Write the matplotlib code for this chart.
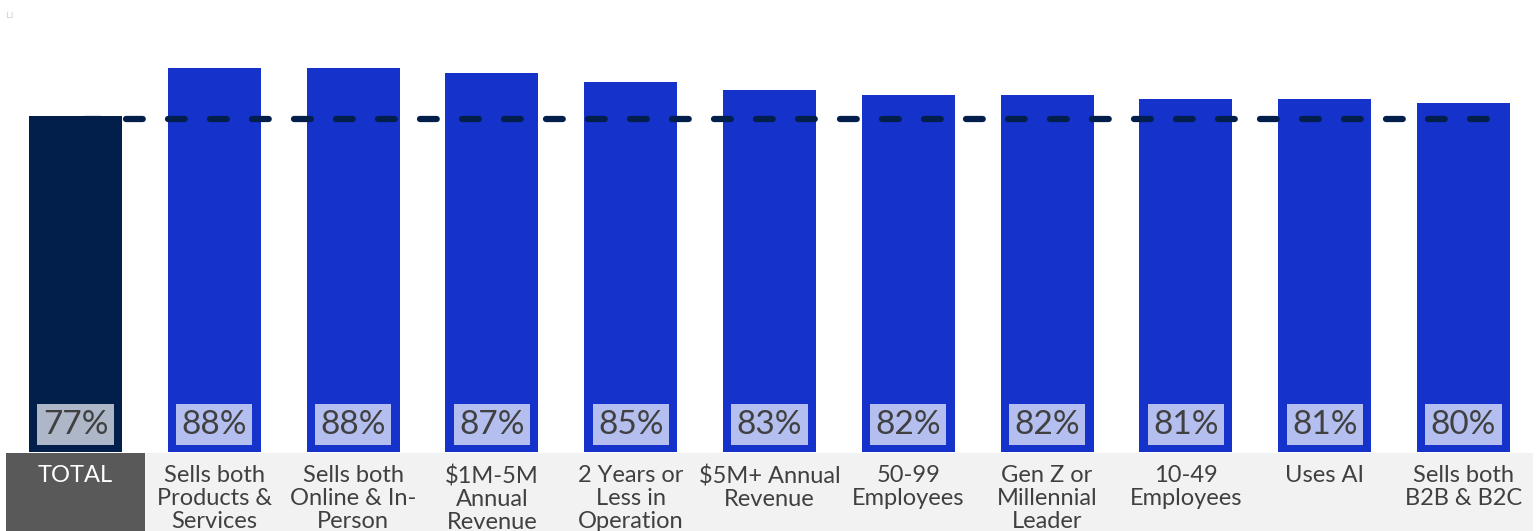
import matplotlib.pyplot as plt
import matplotlib.transforms as mtransforms
from matplotlib.patches import Rectangle

plt.rcParams['font.family'] = ['Lato', 'DejaVu Sans']

categories = ["TOTAL", "Sells both\nProducts &\nServices", "Sells both\nOnline & In-\nPerson",
              "$1M-5M\nAnnual\nRevenue", "2 Years or\nLess in\nOperation", "$5M+ Annual\nRevenue",
              "50-99\nEmployees", "Gen Z or\nMillennial\nLeader", "10-49\nEmployees", "Uses AI",
              "Sells both\nB2B & B2C"]
values = [77, 88, 88, 87, 85, 83, 82, 82, 81, 81, 80]
total_value = values[0]

navy = "#021f4c"
blue = "#1532cb"
text_grey = "#404040"

W, H = 1540, 531
fig = plt.figure(figsize=(W / 100, H / 100), dpi=100)
ax = fig.add_axes([0, 79 / H, 1, 1 - 79 / H])

n = len(values)
x = list(range(n))
colors = [navy] + [blue] * (n - 1)
ax.bar(x, values, width=0.67, color=colors, zorder=2)

# benchmark line at the total level
ax.plot([0.06, 10.17], [total_value - 0.5, total_value - 0.5], color=navy, lw=4.5,
        dashes=(2.68, 4.04), dash_capstyle='round', zorder=3)

# value labels inside the foot of each bar
for i, v in enumerate(values):
    face = "#adb7c8" if i == 0 else "#b4bfef"
    ax.text(i, 6.3, f"{v}%", ha='center', va='center', fontsize=24, color=text_grey,
            bbox=dict(boxstyle='square,pad=0.16', fc=face, ec='none'), zorder=4)

ax.set_xlim(-0.544, 10.551)
ax.set_ylim(0, 103.7)
ax.axis('off')

# category band under the bars
trans = mtransforms.blended_transform_factory(ax.transData, fig.transFigure)
band_top = 78 / H
fig.patches.append(Rectangle((6 / W, 0), (1533 - 6) / W, band_top,
                             transform=fig.transFigure, fc="#f2f2f2", ec='none', zorder=-2))
fig.patches.append(Rectangle((6 / W, 0), (145 - 6) / W, band_top,
                             transform=fig.transFigure, fc="#595959", ec='none', zorder=-1))

for i, cat in enumerate(categories):
    ax.text(i, 66 / H, cat, transform=trans, ha='center', va='top', fontsize=17,
            linespacing=1.12, color='white' if i == 0 else text_grey,
            parse_math=False, clip_on=False)

fig.text(10 / W, 1 - 15 / H, "\u2294", fontsize=7, color="#d0d0d0", ha='center', va='center')

fig.savefig("out.png", dpi=100)
